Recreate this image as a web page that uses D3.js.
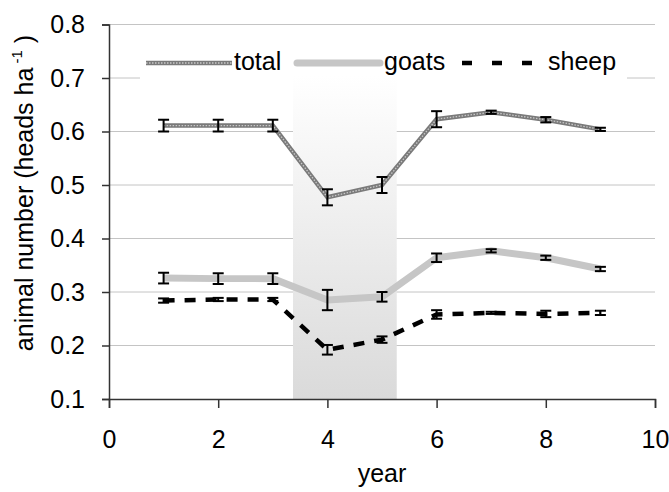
<!DOCTYPE html>
<html>
<head>
<meta charset="utf-8">
<script src="https://cdn.jsdelivr.net/npm/d3@7"></script>
<style>
  html, body { margin: 0; padding: 0; background: #fff; }
  text { font-family: "Liberation Sans", Arial, sans-serif; fill: #000; }
</style>
</head>
<body>
<svg id="chart" width="669" height="492"></svg>
<script>
const years = [1, 2, 3, 4, 5, 6, 7, 8, 9];
const total = [0.611, 0.611, 0.611, 0.477, 0.500, 0.623, 0.636, 0.622, 0.604];
const totalErr = [0.011, 0.011, 0.011, 0.015, 0.015, 0.015, 0.003, 0.005, 0.003];
const goats = [0.326, 0.325, 0.325, 0.285, 0.291, 0.364, 0.377, 0.364, 0.343];
const goatsErr = [0.010, 0.010, 0.010, 0.019, 0.009, 0.008, 0.003, 0.004, 0.004];
const sheep = [0.284, 0.286, 0.286, 0.192, 0.211, 0.258, 0.261, 0.259, 0.261];
const sheepErr = [0.004, 0.003, 0.003, 0.009, 0.006, 0.008, 0.002, 0.006, 0.004];
const shadeRange = [3.37, 5.27];
const xTicks = [0, 2, 4, 6, 8, 10];
const yTicks = [0.1, 0.2, 0.3, 0.4, 0.5, 0.6, 0.7, 0.8];
const seriesNames = ["total", "goats", "sheep"];

const svg = d3.select("#chart");
const x = d3.scaleLinear().domain([0, 10]).range([109, 655]);
const y = d3.scaleLinear().domain([0.1, 0.8]).range([399, 24.5]);

// gradient
const defs = svg.append("defs");
const grad = defs.append("linearGradient").attr("id", "shade")
  .attr("x1", 0).attr("y1", 0).attr("x2", 0).attr("y2", 1);
grad.append("stop").attr("offset", "0%").attr("stop-color", "#ffffff");
grad.append("stop").attr("offset", "100%").attr("stop-color", "#dadada");

// gridlines
svg.append("g").selectAll("line").data(yTicks.slice(1)).join("line")
  .attr("x1", x(0)).attr("x2", x(10))
  .attr("y1", d => y(d)).attr("y2", d => y(d))
  .attr("stroke", "#c4c4c4").attr("stroke-width", 1);

// legend background
svg.append("rect").attr("x", 140).attr("y", 40).attr("width", 487).attr("height", 40)
  .attr("fill", "#fff");

// shaded period
svg.append("rect")
  .attr("x", x(shadeRange[0])).attr("width", x(shadeRange[1]) - x(shadeRange[0]))
  .attr("y", 76).attr("height", y(0.1) - 76)
  .attr("fill", "url(#shade)");

// axes
const yAxis = svg.append("g").attr("transform", `translate(${x(0)},0)`)
  .call(d3.axisLeft(y).tickValues(yTicks).tickFormat(d3.format(".1f")).tickSize(7).tickPadding(17));
const xAxis = svg.append("g").attr("transform", `translate(0,${y(0.1)})`)
  .call(d3.axisBottom(x).tickValues(xTicks).tickFormat(d3.format("d")).tickSize(9).tickPadding(22));
[yAxis, xAxis].forEach(a => {
  a.select(".domain").attr("stroke", "#333").attr("stroke-width", 1.5);
  a.selectAll(".tick line").attr("stroke", "#333").attr("stroke-width", 1.5);
  a.selectAll("text").attr("font-size", 25).attr("font-family", "Liberation Sans, Arial, sans-serif").attr("fill", "#000");
});
xAxis.selectAll(".tick text").attr("dy", "0.71em");

// axis titles
svg.append("text").attr("x", x(5)).attr("y", 482).attr("text-anchor", "middle")
  .attr("font-size", 25).text("year");
const yl = svg.append("text").attr("transform", "translate(33,193) rotate(-90)")
  .attr("text-anchor", "middle").attr("font-size", 25);
yl.append("tspan").text("animal number (heads ha");
yl.append("tspan").attr("font-size", 15).attr("dy", -11).text(" -1");
yl.append("tspan").attr("dy", 11).text(" )");

const line = d3.line().x((d, i) => x(years[i])).y(d => d);

function drawSeries(vals, styleFn) {
  const pts = vals.map(v => y(v));
  const p = svg.append("path").datum(pts).attr("d", line).attr("fill", "none");
  styleFn(p);
}
function drawErr(vals, errs) {
  const g = svg.append("g").attr("stroke", "#000").attr("stroke-width", 2).attr("fill", "none");
  years.forEach((yr, i) => {
    const cx = x(yr), y0 = y(vals[i] - errs[i]), y1 = y(vals[i] + errs[i]);
    g.append("line").attr("x1", cx).attr("x2", cx).attr("y1", y0).attr("y2", y1);
    g.append("line").attr("x1", cx - 5.5).attr("x2", cx + 5.5).attr("y1", y0).attr("y2", y0);
    g.append("line").attr("x1", cx - 5.5).attr("x2", cx + 5.5).attr("y1", y1).attr("y2", y1);
  });
}

const styles = {
  total: [p => p.attr("stroke", "#7a7a7a").attr("stroke-width", 4.5),
          p => p.attr("stroke", "#c8c8c8").attr("stroke-width", 1.3).attr("stroke-dasharray", "1.5,1.5")],
  goats: [p => p.attr("stroke", "#c6c6c6").attr("stroke-width", 7).attr("stroke-linejoin", "round")],
  sheep: [p => p.attr("stroke", "#000").attr("stroke-width", 4.5).attr("stroke-dasharray", "11,10")]
};

// goats
styles.goats.forEach(s => drawSeries(goats, s));
drawErr(goats, goatsErr);
// sheep
styles.sheep.forEach(s => drawSeries(sheep, s));
drawErr(sheep, sheepErr);
// total
styles.total.forEach(s => drawSeries(total, s));
drawErr(total, totalErr);

// legend
const ly = 63;
const legendItems = [
  { name: seriesNames[0], x1: 146, x2: 232, tx: 234 },
  { name: seriesNames[1], x1: 297, x2: 380, tx: 384 },
  { name: seriesNames[2], x1: 462, x2: 535, tx: 548 }
];
legendItems.forEach(it => {
  if (it.name === "total") {
    styles.total.forEach(s => s(svg.append("line").attr("x1", it.x1).attr("x2", it.x2).attr("y1", ly).attr("y2", ly)));
  } else if (it.name === "goats") {
    svg.append("line").attr("x1", it.x1).attr("x2", it.x2).attr("y1", ly).attr("y2", ly)
      .attr("stroke", "#c6c6c6").attr("stroke-width", 7).attr("stroke-linecap", "round");
  } else {
    svg.append("line").attr("x1", it.x1).attr("x2", it.x2).attr("y1", ly).attr("y2", ly)
      .attr("stroke", "#000").attr("stroke-width", 4.5).attr("stroke-dasharray", "10,20");
  }
  svg.append("text").attr("x", it.tx).attr("y", ly + 7).attr("font-size", 25).text(it.name);
});
</script>
</body>
</html>
